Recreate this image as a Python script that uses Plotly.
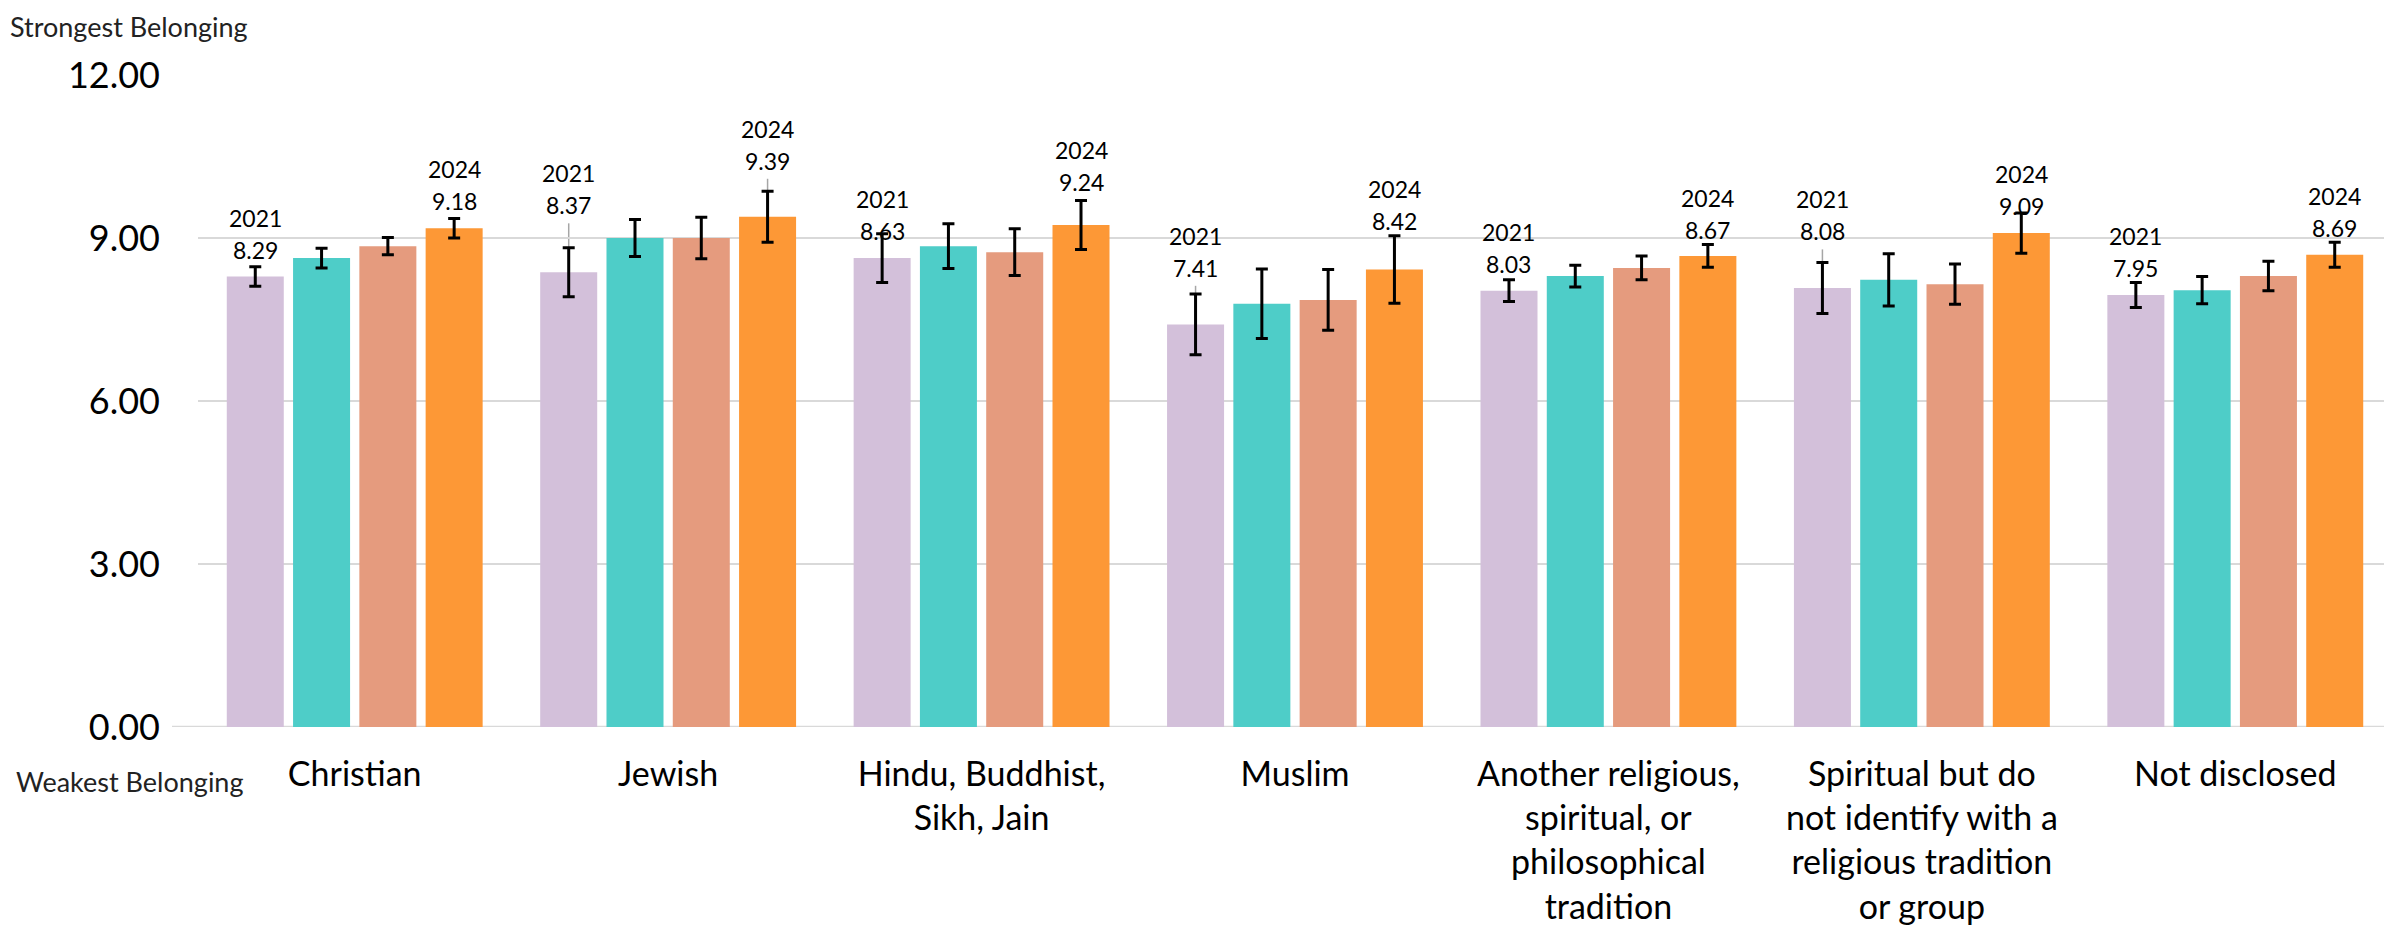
import plotly.graph_objects as go

# ---------------- data ----------------
categories = [
    "Christian",
    "Jewish",
    "Hindu, Buddhist,<br>Sikh, Jain",
    "Muslim",
    "Another religious,<br>spiritual, or<br>philosophical<br>tradition",
    "Spiritual but do<br>not identify with a<br>religious tradition<br>or group",
    "Not disclosed",
]
years = ["2021", "2022", "2023", "2024"]

v2021 = [8.29, 8.37, 8.63, 7.41, 8.03, 8.08, 7.95]
v2022 = [8.63, 9.00, 8.85, 7.79, 8.30, 8.23, 8.04]
v2023 = [8.85, 9.00, 8.74, 7.86, 8.45, 8.15, 8.30]
v2024 = [9.18, 9.39, 9.24, 8.42, 8.67, 9.09, 8.69]

e2021 = [0.18, 0.45, 0.45, 0.56, 0.20, 0.47, 0.23]
e2022 = [0.18, 0.34, 0.41, 0.64, 0.20, 0.48, 0.25]
e2023 = [0.16, 0.38, 0.43, 0.56, 0.22, 0.37, 0.27]
e2024 = [0.18, 0.47, 0.45, 0.62, 0.21, 0.37, 0.23]

y_ticks = [0, 3, 6, 9, 12]

# label placement (layout, data units: vertical middle of two-line label)
label_mid_2021 = [9.07, 9.90, 9.42, 8.75, 8.81, 9.42, 8.75]
label_mid_2024 = [9.98, 10.72, 10.32, 9.60, 9.45, 9.88, 9.48]

# ---------------- style ----------------
colors = ["#D3C0DA", "#4ECDC8", "#E59B7E", "#FD9836"]
BARGAP = 0.154
BARGROUPGAP = 0.14
AXIS_FONT = "Lato"
LABEL_FONT = "Lato"

values = [v2021, v2022, v2023, v2024]
errors = [e2021, e2022, e2023, e2024]
xs = list(range(len(categories)))

fig = go.Figure()
for k, (yr, vals, errs) in enumerate(zip(years, values, errors)):
    fig.add_trace(go.Bar(
        name=yr, x=xs, y=vals,
        marker=dict(color=colors[k], line=dict(width=0)),
        error_y=dict(type="data", array=errs, visible=True,
                     color="#000000", thickness=3, width=6),
    ))

slot = (1 - BARGAP) / len(years)
annotations = []
shapes = []
for k, mids, vals in [(0, label_mid_2021, v2021), (3, label_mid_2024, v2024)]:
    off = (k - (len(years) - 1) / 2) * slot
    for i, (m, v) in enumerate(zip(mids, vals)):
        for txt, sh in [(years[k], 16), (f"{v:.2f}", -16)]:
            annotations.append(dict(
                x=xs[i] + off, y=m, xref="x", yref="y", yshift=sh,
                text=txt, showarrow=False,
                xanchor="center", yanchor="middle",
                font=dict(family=LABEL_FONT, size=23, color="#000000"),
            ))
        top = m - 0.63
        if top - v > 0.37:
            shapes.append(dict(
                type="line", xref="x", yref="y",
                x0=xs[i] + off, x1=xs[i] + off, y0=v, y1=top,
                line=dict(color="#A6A6A6", width=1.5), layer="below",
            ))

# baseline (axis line) extending a bit to the left of gridlines
shapes.append(dict(type="line", xref="paper", yref="y",
                   x0=-26 / 2194, x1=1, y0=0, y1=0,
                   line=dict(color="#D9D9D9", width=2.5), layer="below"))

annotations.append(dict(
    xref="paper", yref="paper", x=0, y=1, xshift=-190, yshift=67,
    xanchor="left", yanchor="top", showarrow=False,
    text="Strongest Belonging",
    font=dict(family=AXIS_FONT, size=27, color="#222222"),
))
annotations.append(dict(
    xref="paper", yref="paper", x=0, y=0, xshift=-184, yshift=-54,
    xanchor="left", yanchor="middle", showarrow=False,
    text="Weakest Belonging",
    font=dict(family=AXIS_FONT, size=27, color="#222222"),
))

fig.update_layout(
    width=2384, height=926,
    margin=dict(l=190, r=0, t=67, b=207),
    paper_bgcolor="white", plot_bgcolor="white",
    barmode="group", bargap=BARGAP, bargroupgap=BARGROUPGAP,
    showlegend=False,
    annotations=annotations, shapes=shapes,
    xaxis=dict(
        tickmode="array", tickvals=xs, ticktext=categories,
        range=[-0.5, len(categories) - 0.5],
        showgrid=False, zeroline=False, showline=False, ticks="",
        tickfont=dict(family=AXIS_FONT, size=34, color="#000000"),
        ticklabelstandoff=24,
    ),
    yaxis=dict(
        range=[0, 12], tickmode="array", tickvals=y_ticks,
        tickformat=".2f",
        showgrid=True, gridcolor="#D9D9D9", gridwidth=2,
        zeroline=False, showline=False, ticks="",
        tickfont=dict(family=AXIS_FONT, size=36, color="#000000"),
        ticklabelstandoff=37,
    ),
)

fig.write_html("out.html")
